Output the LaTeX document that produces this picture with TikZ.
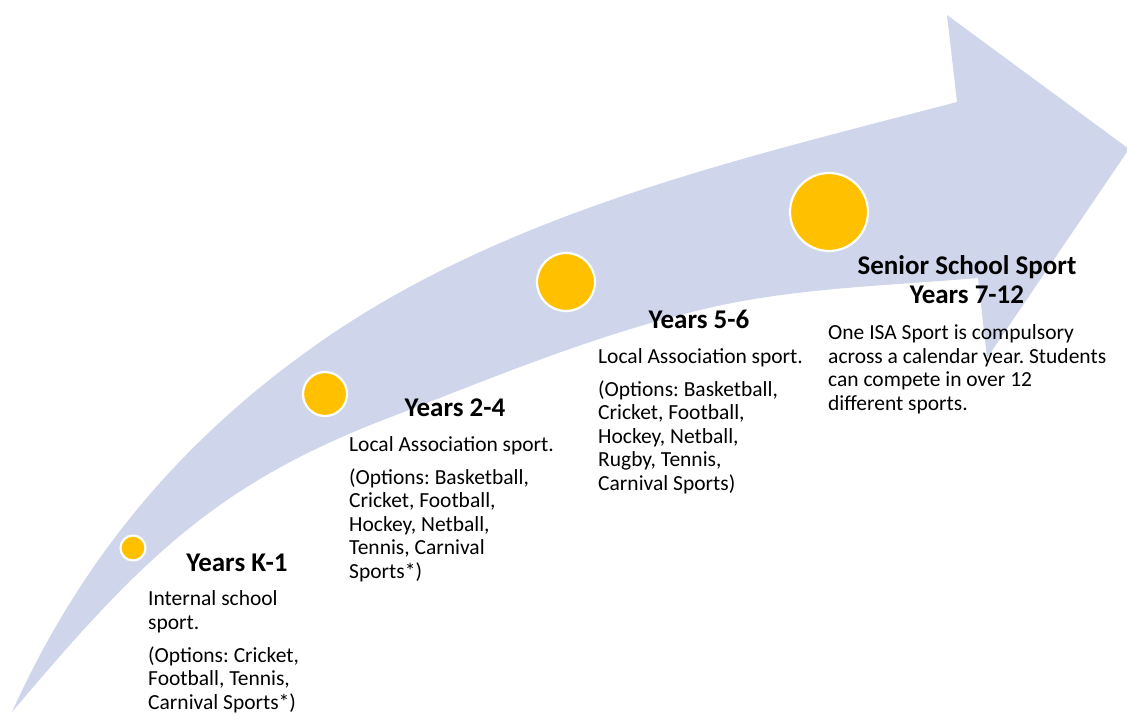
\documentclass[tikz,border=0pt]{standalone}
\usepackage{fontspec}
\setmainfont{Carlito}
\frenchspacing
\definecolor{bandblue}{RGB}{207,213,234}
\definecolor{dotgold}{RGB}{255,192,0}
\tikzset{
  band/.style={fill=bandblue},
  dot/.style={circle, fill=dotgold, draw=white, line width=2.2pt, inner sep=0pt},
  heading/.style={font=\fontsize{27}{29}\selectfont\bfseries, anchor=base, align=center, inner sep=0pt},
  bodytext/.style={font=\fontsize{21.5}{23.4}\selectfont, anchor=base west, align=left, inner sep=0pt},
}
\begin{document}
\begin{tikzpicture}[x=1pt, y=-1pt]
\useasboundingbox (0,0) rectangle (1127,713);
\clip (0,0) rectangle (1127,713);
% curved arrow: upper edge, head, lower edge back to the tail point
\fill[band] (12,712) .. controls (86,548) and (192,431) .. (323,340)
  .. controls (508,212) and (739,159) .. (957,102)
  -- (947,15) -- (1129,149) -- (987,358) -- (978,278)
  .. controls (884,286) and (790,288) .. (700,310)
  .. controls (591,336) and (487,380) .. (383,420)
  .. controls (216,485) and (141,559) .. (12,712) -- cycle;

% milestones
\node[dot, minimum size=25pt] (d1) at (133,548) {};
\node[dot, minimum size=44pt] (d2) at (325,394) {};
\node[dot, minimum size=58pt] (d3) at (566,282) {};
\node[dot, minimum size=78pt] (d4) at (829,212) {};

% stage K-1
\node[heading] (h1) at (237,571) {Years K-1};
\node[bodytext] (b1) at (148,709) {Internal school\\sport.\\[9.6pt](Options: Cricket,\\Football, Tennis,\\Carnival Sports*)};

% stage 2-4
\node[heading] (h2) at (455,416) {Years 2-4};
\node[bodytext] (b2) at (349,578) {Local Association sport.\\[9.6pt](Options: Basketball,\\Cricket, Football,\\Hockey, Netball,\\Tennis, Carnival\\Sports*)};

% stage 5-6
\node[heading] (h3) at (699,328) {Years 5-6};
\node[bodytext] (b3) at (598,490) {Local Association sport.\\[9.6pt](Options: Basketball,\\Cricket, Football,\\Hockey, Netball,\\Rugby, Tennis,\\Carnival Sports)};

% stage 7-12
\node[heading] (h4) at (967,303) {Senior School Sport\\Years 7-12};
\node[bodytext] (b4) at (828,410) {One ISA Sport is compulsory\\across a calendar year. Students\\can compete in over 12\\different sports.};
\end{tikzpicture}
\end{document}
